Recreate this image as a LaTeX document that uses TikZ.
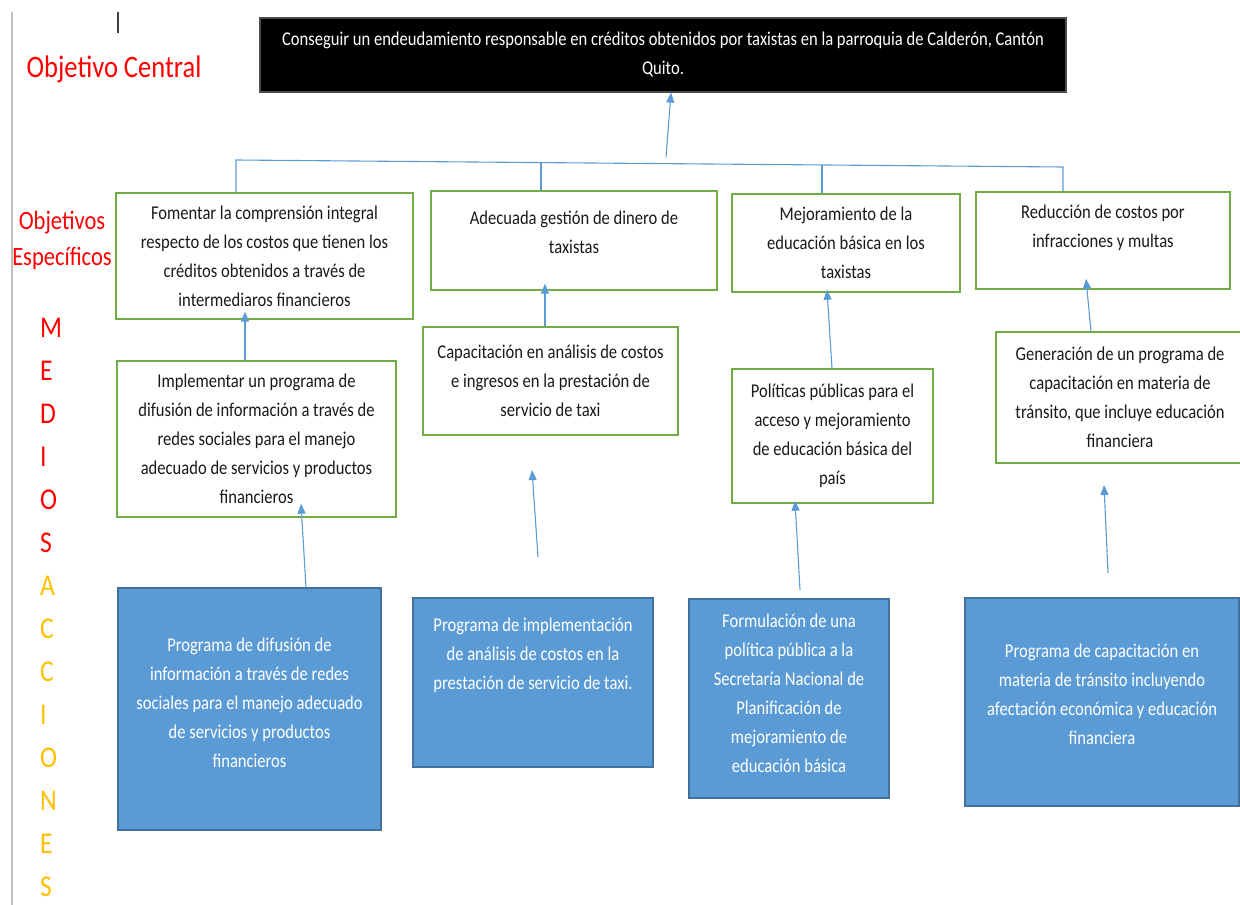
\documentclass[tikz,border=0pt]{standalone}
\usepackage{fontspec}
\setmainfont{Carlito}[FakeStretch=0.85]
\usetikzlibrary{arrows.meta}

\definecolor{ogreen}{HTML}{70AD47}
\definecolor{oblue}{HTML}{5B9BD5}
\definecolor{obluedark}{HTML}{41719C}
\definecolor{ored}{HTML}{FF0000}
\definecolor{oorange}{HTML}{FFC000}

\tikzset{
  txtbox/.style={rectangle, align=center, inner sep=2pt, font=\fontsize{19.5}{29}\selectfont},
  gbox/.style={txtbox, draw=ogreen, line width=1.4pt, text=black!90},
  bbox/.style={txtbox, draw=obluedark, fill=oblue, line width=1.4pt, text=white},
  link/.style={draw=oblue, line width=1.1pt},
  uparrow/.style={link, -{Triangle[length=10pt,width=8pt]}},
  sidelabel/.style={text=ored, inner sep=0pt}
}

\begin{document}
\begin{tikzpicture}[x=1pt,y=-1pt]
\useasboundingbox (0,0) rectangle (1240,905);
% page margin and cursor
\draw[black!25, line width=1.2pt] (12,12) -- (12,905);
\draw[black!75, line width=1.5pt] (118,12) -- (118,33);

% side labels
\node[sidelabel, anchor=base, font=\fontsize{31.2}{32}\selectfont] (lcentral) at (114,77) {Objetivo Central};
\node[sidelabel, anchor=base, font=\fontsize{26.5}{36}\selectfont] (lesp1) at (62,229) {Objetivos};
\node[sidelabel, anchor=base, font=\fontsize{26.5}{36}\selectfont] (lesp2) at (62,265) {Específicos};
\foreach \l/\c [count=\i from 0] in {M/ored,E/ored,D/ored,I/ored,O/ored,S/ored,A/oorange,C/oorange,C/oorange,I/oorange,O/oorange,N/oorange,E/oorange,S/oorange}
  \node[sidelabel, text=\c, anchor=base west, font=\fontsize{30.2}{32}\selectfont] (l\i) at (40,{337+43*\i}) {\l};

% central objective
\node[txtbox, fill=black, draw=black!70, line width=1.2pt, text=white, minimum width=806pt, minimum height=74pt] (central) at (663,55)
  {Conseguir un endeudamiento responsable en créditos obtenidos por taxistas en la parroquia de Calderón, Cantón\\Quito.};

% specific objectives
\node[gbox, minimum width=297pt, minimum height=126pt] (a1) at (264.5,256)
  {Fomentar la comprensión integral\\respecto de los costos que tienen los\\créditos obtenidos a través de\\intermediaros financieros};
\node[gbox, minimum width=286pt, minimum height=99pt, text depth=16pt] (a2) at (574,240.5)
  {Adecuada gestión de dinero de\\taxistas};
\node[gbox, minimum width=228pt, minimum height=98pt] (a3) at (846,243)
  {Mejoramiento de la\\educación básica en los\\taxistas};
\node[gbox, minimum width=254pt, minimum height=97pt, text depth=29pt] (a4) at (1103,240.5)
  {Reducción de costos por\\infracciones y multas};

% means
\node[gbox, minimum width=279pt, minimum height=156pt] (b1) at (256.5,439)
  {Implementar un programa de\\difusión de información a través de\\redes sociales para el manejo\\adecuado de servicios y productos\\financieros};
\node[gbox, minimum width=255pt, minimum height=108pt] (b2) at (550.5,381)
  {Capacitación en análisis de costos\\e ingresos en la prestación de\\servicio de taxi};
\node[gbox, minimum width=201pt, minimum height=134pt] (b3) at (832.5,436)
  {Políticas públicas para el\\acceso y mejoramiento\\de educación básica del\\país};
\node[gbox, minimum width=248pt, minimum height=131pt] (b4) at (1120,397.5)
  {Generación de un programa de\\capacitación en materia de\\tránsito, que incluye educación\\financiera};

% actions
\node[bbox, minimum width=263pt, minimum height=242pt, text depth=13pt] (c1) at (249.5,709)
  {Programa de difusión de\\información a través de redes\\sociales para el manejo adecuado\\de servicios y productos\\financieros};
\node[bbox, minimum width=240pt, minimum height=169pt, text depth=58pt] (c2) at (533,682.5)
  {Programa de implementación\\de análisis de costos en la\\prestación de servicio de taxi.};
\node[bbox, minimum width=200pt, minimum height=199pt, text depth=11pt] (c3) at (789,698.5)
  {Formulación de una\\política pública a la\\Secretaría Nacional de\\Planificación de\\mejoramiento de\\educación básica};
\node[bbox, minimum width=274pt, minimum height=208pt, text depth=15pt] (c4) at (1102,702)
  {Programa de capacitación en\\materia de tránsito incluyendo\\afectación económica y educación\\financiera};

% tree under the central objective
\coordinate (bus1) at (236,160);
\coordinate (bus2) at (541,162.6);
\coordinate (bus3) at (822,165);
\coordinate (bus4) at (1063,167);
\coordinate (hub) at (666,157);
\draw[link] (bus1 |- a1.north) -- (bus1) -- (bus4) -- (bus4 |- a4.north);
\draw[link] (bus2) -- (bus2 |- a2.north);
\draw[link] (bus3) -- (bus3 |- a3.north);
\draw[uparrow] (hub) -- ([xshift=8pt]central.south);

% arrows means -> objectives
\draw[uparrow] ([xshift=-11.5pt]b1.north) -- ([xshift=-19.5pt,yshift=8pt]a1.south);
\draw[uparrow] ([xshift=-5.5pt]b2.north) -- ([xshift=-29pt,yshift=7pt]a2.south);
\draw[uparrow] ([xshift=-0.5pt]b3.north) -- ([xshift=-19pt,yshift=3pt]a3.south);
\draw[uparrow] ([xshift=-29pt]b4.north) -- ([xshift=-17pt,yshift=11pt]a4.south);

% arrows actions -> means
\coordinate (c2tail) at (538,557);
\coordinate (b2tip) at (532,470);
\coordinate (c3tail) at (800,590);
\coordinate (c4tail) at (1108,573);
\coordinate (b4tip) at (1104,485);
\draw[uparrow] ([xshift=56.5pt]c1.north) -- ([xshift=44.5pt,yshift=14pt]b1.south);
\draw[uparrow] (c2tail) -- (b2tip);
\draw[uparrow] (c3tail) -- ([xshift=-37.5pt,yshift=3pt]b3.south);
\draw[uparrow] (c4tail) -- (b4tip);
\end{tikzpicture}
\end{document}
